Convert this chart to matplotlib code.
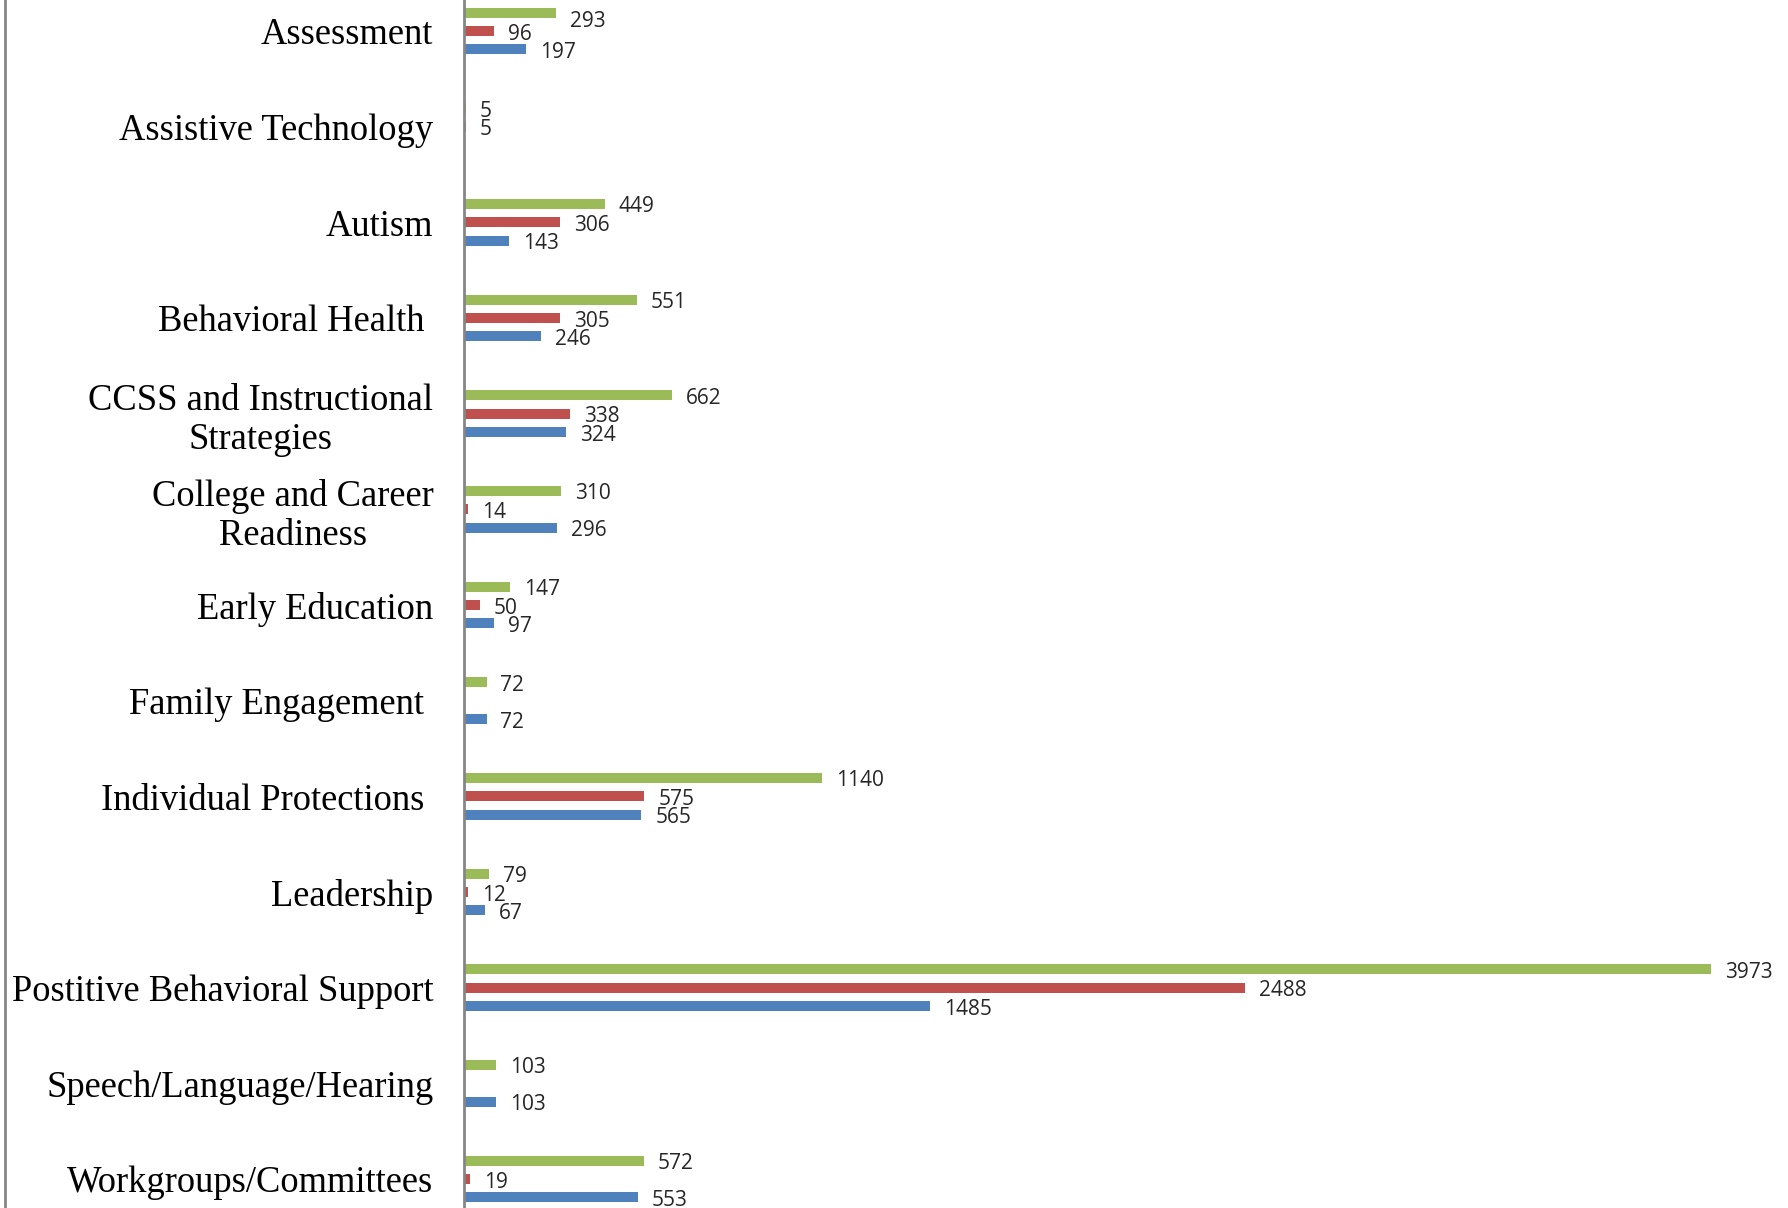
import matplotlib
matplotlib.use("Agg")
import matplotlib.pyplot as plt
from matplotlib.lines import Line2D
import numpy as np

categories = [
    "Assessment",
    "Assistive Technology",
    "Autism",
    "Behavioral Health ",
    "CCSS and Instructional\nStrategies",
    "College and Career\nReadiness",
    "Early Education",
    "Family Engagement ",
    "Individual Protections ",
    "Leadership",
    "Postitive Behavioral Support",
    "Speech/Language/Hearing",
    "Workgroups/Committees",
]
total = [293, 5, 449, 551, 662, 310, 147, 72, 1140, 79, 3973, 103, 572]
series_red = [96, 5, 306, 305, 338, 14, 50, 0, 575, 12, 2488, 0, 19]
series_blue = [197, 0, 143, 246, 324, 296, 97, 72, 565, 67, 1485, 103, 553]

GREEN = "#9BBB59"
RED = "#C0504D"
BLUE = "#4F81BD"

W, H = 1788, 1208
fig = plt.figure(figsize=(W / 100, H / 100), dpi=100)
ax_left = 464 / W
ax = fig.add_axes([ax_left, 0.0, 1.0 - ax_left, 1.0])

px_per_unit = 1247 / 3973
ax.set_xlim(0, (W - 464) / px_per_unit)
pitch = (1179 - 31) / 12
ax.set_ylim(12 + (H - 1179) / pitch, -31 / pitch)

y = np.arange(len(categories))
off = 0.193
bh = 0.105
series = [(total, GREEN, -off), (series_red, RED, 0.0), (series_blue, BLUE, off)]
for vals, col, o in series:
    bars = ax.barh(y + o, vals, height=bh, color=col, edgecolor="none")
    for b, v in zip(bars, vals):
        if v == 0:
            continue
        yc = b.get_y() + b.get_height() / 2
        # pixel position from top of figure
        px_top = (yc - ax.get_ylim()[1]) * pitch
        dy_px = -3
        if px_top + 3 < 21:
            dy_px = -(21 - px_top)
        ax.annotate(str(v), (b.get_width(), yc),
                    xytext=(10, dy_px * 0.72), textcoords="offset points",
                    va="center", ha="left", fontsize=15,
                    family="Open Sans", color="#262626")

ax.set_yticks(y)
ax.set_yticklabels(categories, family="Liberation Serif", fontsize=26.3,
                   color="black", multialignment="center")
ax.tick_params(axis="y", length=0, pad=22)
ax.set_xticks([])
for s in ["top", "right", "bottom"]:
    ax.spines[s].set_visible(False)
ax.spines["left"].set_color("#868686")
ax.spines["left"].set_linewidth(2)

fig.add_artist(Line2D([4.5 / W, 4.5 / W], [0, 1], transform=fig.transFigure,
                      color="#868686", linewidth=2))

fig.savefig("out.png", dpi=100)
